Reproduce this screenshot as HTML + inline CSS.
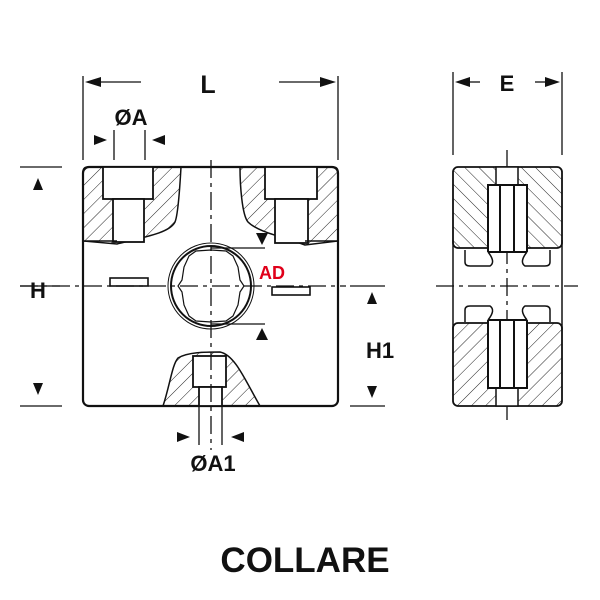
<!DOCTYPE html>
<html><head><meta charset="utf-8"><style>
html,body{margin:0;padding:0;background:#fff;width:600px;height:600px;overflow:hidden}
svg{display:block}
text{font-family:"Liberation Sans",sans-serif;font-weight:bold}
</style></head><body>
<svg width="600" height="600" viewBox="0 0 600 600" xmlns="http://www.w3.org/2000/svg">
<defs>
<pattern id="h1" patternUnits="userSpaceOnUse" width="10" height="10" patternTransform="rotate(45)">
<line x1="0" y1="0" x2="0" y2="10" stroke="#222" stroke-width="1"/></pattern>
<pattern id="h2" patternUnits="userSpaceOnUse" width="10" height="10" patternTransform="rotate(-45)">
<line x1="0" y1="0" x2="0" y2="10" stroke="#222" stroke-width="1"/></pattern>
</defs>
<g stroke="#111" fill="none" stroke-width="1.3">
<line x1="83" y1="76" x2="83" y2="160"/><line x1="338" y1="76" x2="338" y2="160"/>
<line x1="95" y1="82" x2="141" y2="82"/><line x1="279" y1="82" x2="326" y2="82"/>
<line x1="114" y1="130" x2="114" y2="160"/><line x1="145" y1="130" x2="145" y2="160"/>
<line x1="20" y1="167" x2="62" y2="167"/><line x1="20" y1="406" x2="62" y2="406"/>
<line x1="20" y1="286" x2="60" y2="286"/>
<line x1="350" y1="286" x2="385" y2="286"/><line x1="350" y1="406" x2="385" y2="406"/>
<line x1="199" y1="406" x2="199" y2="445"/><line x1="222" y1="406" x2="222" y2="445"/>
<line x1="453" y1="72" x2="453" y2="155"/><line x1="562" y1="72" x2="562" y2="155"/>
<line x1="465" y1="82" x2="480" y2="82"/><line x1="535" y1="82" x2="550" y2="82"/>
</g>
<g fill="#111">
<polygon points="85,82 101,77 101,87"/><polygon points="336,82 320,77 320,87"/>
<polygon points="107,140 94,135 94,145"/><polygon points="152,140 165,135 165,145"/>
<polygon points="38,178 33,190 43,190"/><polygon points="38,395 33,383 43,383"/>
<polygon points="372,292 367,304 377,304"/><polygon points="372,398 367,386 377,386"/>
<polygon points="190,437 177,432 177,442"/><polygon points="231,437 244,432 244,442"/>
<polygon points="455,82 470,77 470,87"/><polygon points="560,82 545,77 545,87"/>
<polygon points="262,245 256,233 268,233"/><polygon points="262,328 256,340 268,340"/>
</g>
<text x="208" y="93" font-size="25" text-anchor="middle" fill="#111">L</text>
<text x="131" y="125" font-size="22" text-anchor="middle" fill="#111">ØA</text>
<text x="38" y="298" font-size="22" text-anchor="middle" fill="#111">H</text>
<text x="380" y="358" font-size="22" text-anchor="middle" fill="#111">H1</text>
<text x="213" y="471" font-size="22" text-anchor="middle" fill="#111">ØA1</text>
<text x="507" y="91" font-size="22" text-anchor="middle" fill="#111">E</text>
<text x="272" y="279" font-size="18" text-anchor="middle" fill="#e0001a">AD</text>
<text x="305" y="572" font-size="35" text-anchor="middle" fill="#111">COLLARE</text>

<g stroke="#111" stroke-width="2.2" fill="none">
<path d="M83,241 L83,172 Q83,167 88,167 L181,167 C180,185 178,215 175,222 C170,232 150,236 117,244 Z" fill="url(#h1)" stroke-width="1.5"/>
<path d="M338,241 L338,172 Q338,167 333,167 L240,167 C240,185 242,215 248,222 C258,232 280,236 305,245 Z" fill="url(#h1)" stroke-width="1.5"/>
<path d="M163,406 C170,385 172,365 178,358 C188,352 205,352 220,352 C235,355 245,380 260,406 Z" fill="url(#h1)" stroke-width="1.5"/>
<rect x="83" y="167" width="255" height="239" rx="6"/>
<rect x="103" y="167" width="50" height="32" fill="#fff" stroke-width="1.8"/>
<rect x="113" y="199" width="31" height="43" fill="#fff" stroke-width="1.8"/>
<rect x="265" y="167" width="52" height="32" fill="#fff" stroke-width="1.8"/>
<rect x="275" y="199" width="33" height="44" fill="#fff" stroke-width="1.8"/>
<rect x="193" y="356" width="33" height="31" fill="#fff" stroke-width="1.8"/>
<rect x="199" y="387" width="23" height="19" fill="#fff" stroke-width="1.8"/>
<line x1="83" y1="241" x2="117" y2="241" stroke-width="1.5"/>
<line x1="305" y1="241" x2="338" y2="241" stroke-width="1.5"/>
<rect x="110" y="278" width="38" height="8" stroke-width="1.6"/>
<rect x="272" y="287" width="38" height="8" stroke-width="1.6"/>
</g>
<g stroke="#111" fill="none">
<circle cx="211" cy="286" r="43" stroke-width="1"/>
<circle cx="211" cy="286" r="40" stroke-width="2"/>
<path d="M211,250 L226,251 L233,256 L238,267 L240,280 L244,286 L240,292 L238,305 L233,316 L226,321 L211,322 L196,321 L189,316 L184,305 L182,292 L178,286 L182,280 L184,267 L189,256 L196,251 Z" stroke-width="1.2"/>
<line x1="211" y1="248" x2="265" y2="248" stroke-width="1.3"/>
<line x1="211" y1="324" x2="265" y2="324" stroke-width="1.3"/>
<g stroke-width="1.3" stroke-dasharray="18,5,4,5">
<line x1="211" y1="160" x2="211" y2="450"/>
<line x1="20" y1="286" x2="346" y2="286"/>
<line x1="507" y1="150" x2="507" y2="420"/>
<line x1="436" y1="286" x2="578" y2="286"/>
</g>
</g>

<g stroke="#111" stroke-width="2" fill="none">
<rect x="453" y="167" width="109" height="81" rx="5" fill="url(#h2)" stroke-width="1.8"/>
<rect x="453" y="323" width="109" height="83" rx="5" fill="url(#h1)" stroke-width="1.8"/>
<line x1="453" y1="240" x2="453" y2="330" stroke-width="1.5"/>
<line x1="562" y1="240" x2="562" y2="330" stroke-width="1.5"/>
<rect x="496" y="167" width="22" height="18" fill="#fff" stroke-width="1.5"/>
<rect x="488" y="185" width="39" height="67" fill="#fff"/>
<line x1="500" y1="185" x2="500" y2="252"/><line x1="514" y1="185" x2="514" y2="252"/>
<rect x="496" y="388" width="22" height="18" fill="#fff" stroke-width="1.5"/>
<rect x="488" y="320" width="39" height="68" fill="#fff"/>
<line x1="500" y1="320" x2="500" y2="388"/><line x1="514" y1="320" x2="514" y2="388"/>
<path d="M465,250 L465,262 Q465,266 470,266 L490,266 Q496,262 488,252" fill="#fff" stroke-width="1.5"/>
<path d="M550,250 L550,262 Q550,266 545,266 L525,266 Q519,262 527,252" fill="#fff" stroke-width="1.5"/>
<path d="M465,322 L465,310 Q465,306 470,306 L490,306 Q496,310 488,320" fill="#fff" stroke-width="1.5"/>
<path d="M550,322 L550,310 Q550,306 545,306 L525,306 Q519,310 527,320" fill="#fff" stroke-width="1.5"/>
</g>
</svg>
</body></html>
